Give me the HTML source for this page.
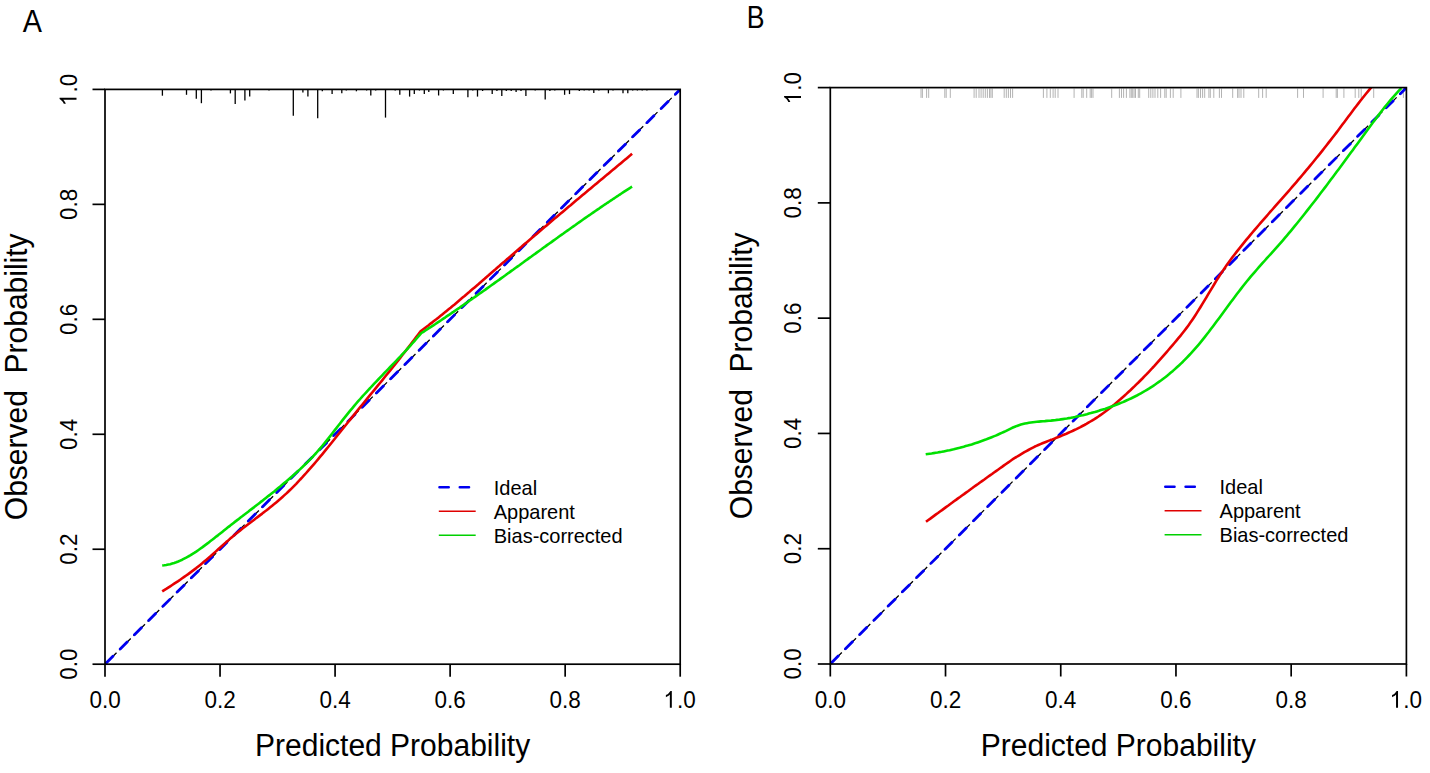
<!DOCTYPE html>
<html><head><meta charset="utf-8"><style>
html,body{margin:0;padding:0;background:#fff;}
body{width:1430px;height:773px;overflow:hidden;}
svg{display:block;}
text{font-family:"Liberation Sans",sans-serif;fill:#000;}
</style></head><body>
<svg width="1430" height="773" viewBox="0 0 1430 773">
<rect width="1430" height="773" fill="#fff"/>
<clipPath id="c105"><rect x="105" y="89.4" width="575.2" height="574.8"/></clipPath>
<line x1="162.4" y1="89.4" x2="162.4" y2="95.7" stroke="#000" stroke-width="1.3"/>
<line x1="186.5" y1="89.4" x2="186.5" y2="94.8" stroke="#000" stroke-width="1.3"/>
<line x1="196.3" y1="89.4" x2="196.3" y2="98.7" stroke="#000" stroke-width="1.3"/>
<line x1="201.4" y1="89.4" x2="201.4" y2="103.2" stroke="#000" stroke-width="1.3"/>
<line x1="211" y1="89.4" x2="211" y2="90.6" stroke="#000" stroke-width="1.3"/>
<line x1="230.4" y1="89.4" x2="230.4" y2="93.4" stroke="#000" stroke-width="1.3"/>
<line x1="235.2" y1="89.4" x2="235.2" y2="103.9" stroke="#000" stroke-width="1.3"/>
<line x1="244.9" y1="89.4" x2="244.9" y2="100.4" stroke="#000" stroke-width="1.3"/>
<line x1="249.7" y1="89.4" x2="249.7" y2="96.6" stroke="#000" stroke-width="1.3"/>
<line x1="269" y1="89.4" x2="269" y2="90.6" stroke="#000" stroke-width="1.3"/>
<line x1="293.3" y1="89.4" x2="293.3" y2="115.8" stroke="#000" stroke-width="1.3"/>
<line x1="302.9" y1="89.4" x2="302.9" y2="92.4" stroke="#000" stroke-width="1.3"/>
<line x1="307.9" y1="89.4" x2="307.9" y2="96.6" stroke="#000" stroke-width="1.3"/>
<line x1="317.7" y1="89.4" x2="317.7" y2="118.3" stroke="#000" stroke-width="1.3"/>
<line x1="322.3" y1="89.4" x2="322.3" y2="91.3" stroke="#000" stroke-width="1.3"/>
<line x1="332.1" y1="89.4" x2="332.1" y2="94.1" stroke="#000" stroke-width="1.3"/>
<line x1="341.8" y1="89.4" x2="341.8" y2="93.3" stroke="#000" stroke-width="1.3"/>
<line x1="346.3" y1="89.4" x2="346.3" y2="90.5" stroke="#000" stroke-width="1.3"/>
<line x1="356.4" y1="89.4" x2="356.4" y2="91.3" stroke="#000" stroke-width="1.3"/>
<line x1="366.6" y1="89.4" x2="366.6" y2="90.5" stroke="#000" stroke-width="1.3"/>
<line x1="370.8" y1="89.4" x2="370.8" y2="95.5" stroke="#000" stroke-width="1.3"/>
<line x1="375.7" y1="89.4" x2="375.7" y2="90.5" stroke="#000" stroke-width="1.3"/>
<line x1="385.5" y1="89.4" x2="385.5" y2="117.6" stroke="#000" stroke-width="1.3"/>
<line x1="395.2" y1="89.4" x2="395.2" y2="90.5" stroke="#000" stroke-width="1.3"/>
<line x1="399.8" y1="89.4" x2="399.8" y2="94.8" stroke="#000" stroke-width="1.3"/>
<line x1="409.6" y1="89.4" x2="409.6" y2="96.6" stroke="#000" stroke-width="1.3"/>
<line x1="414.3" y1="89.4" x2="414.3" y2="94.1" stroke="#000" stroke-width="1.3"/>
<line x1="419.4" y1="89.4" x2="419.4" y2="90.5" stroke="#000" stroke-width="1.3"/>
<line x1="424.3" y1="89.4" x2="424.3" y2="94.1" stroke="#000" stroke-width="1.3"/>
<line x1="428.8" y1="89.4" x2="428.8" y2="92" stroke="#000" stroke-width="1.3"/>
<line x1="438.6" y1="89.4" x2="438.6" y2="95.5" stroke="#000" stroke-width="1.3"/>
<line x1="443.4" y1="89.4" x2="443.4" y2="90.5" stroke="#000" stroke-width="1.3"/>
<line x1="453.3" y1="89.4" x2="453.3" y2="94.1" stroke="#000" stroke-width="1.3"/>
<line x1="467.9" y1="89.4" x2="467.9" y2="97.3" stroke="#000" stroke-width="1.3"/>
<line x1="472.8" y1="89.4" x2="472.8" y2="90.5" stroke="#000" stroke-width="1.3"/>
<line x1="477.5" y1="89.4" x2="477.5" y2="96.6" stroke="#000" stroke-width="1.3"/>
<line x1="482.6" y1="89.4" x2="482.6" y2="91" stroke="#000" stroke-width="1.3"/>
<line x1="492.2" y1="89.4" x2="492.2" y2="94.1" stroke="#000" stroke-width="1.3"/>
<line x1="496.9" y1="89.4" x2="496.9" y2="91" stroke="#000" stroke-width="1.3"/>
<line x1="501.8" y1="89.4" x2="501.8" y2="95.9" stroke="#000" stroke-width="1.3"/>
<line x1="506.3" y1="89.4" x2="506.3" y2="91" stroke="#000" stroke-width="1.3"/>
<line x1="511.2" y1="89.4" x2="511.2" y2="91" stroke="#000" stroke-width="1.3"/>
<line x1="516.1" y1="89.4" x2="516.1" y2="92" stroke="#000" stroke-width="1.3"/>
<line x1="521" y1="89.4" x2="521" y2="91" stroke="#000" stroke-width="1.3"/>
<line x1="525.9" y1="89.4" x2="525.9" y2="95.9" stroke="#000" stroke-width="1.3"/>
<line x1="535.2" y1="89.4" x2="535.2" y2="90.5" stroke="#000" stroke-width="1.3"/>
<line x1="545.2" y1="89.4" x2="545.2" y2="99.4" stroke="#000" stroke-width="1.3"/>
<line x1="549.9" y1="89.4" x2="549.9" y2="91" stroke="#000" stroke-width="1.3"/>
<line x1="554.8" y1="89.4" x2="554.8" y2="90.5" stroke="#000" stroke-width="1.3"/>
<line x1="564.6" y1="89.4" x2="564.6" y2="94.8" stroke="#000" stroke-width="1.3"/>
<line x1="569.5" y1="89.4" x2="569.5" y2="94.1" stroke="#000" stroke-width="1.3"/>
<line x1="579.3" y1="89.4" x2="579.3" y2="91" stroke="#000" stroke-width="1.3"/>
<line x1="584.2" y1="89.4" x2="584.2" y2="90.5" stroke="#000" stroke-width="1.3"/>
<line x1="589.1" y1="89.4" x2="589.1" y2="90.5" stroke="#000" stroke-width="1.3"/>
<line x1="593.8" y1="89.4" x2="593.8" y2="93.1" stroke="#000" stroke-width="1.3"/>
<line x1="598.9" y1="89.4" x2="598.9" y2="90.5" stroke="#000" stroke-width="1.3"/>
<line x1="608.4" y1="89.4" x2="608.4" y2="93.3" stroke="#000" stroke-width="1.3"/>
<line x1="613" y1="89.4" x2="613" y2="90.5" stroke="#000" stroke-width="1.3"/>
<line x1="623" y1="89.4" x2="623" y2="93.3" stroke="#000" stroke-width="1.3"/>
<line x1="627.8" y1="89.4" x2="627.8" y2="93.3" stroke="#000" stroke-width="1.3"/>
<line x1="632.7" y1="89.4" x2="632.7" y2="90.5" stroke="#000" stroke-width="1.3"/>
<line x1="637.4" y1="89.4" x2="637.4" y2="90.5" stroke="#000" stroke-width="1.3"/>
<line x1="642.2" y1="89.4" x2="642.2" y2="90.5" stroke="#000" stroke-width="1.3"/>
<line x1="646.9" y1="89.4" x2="646.9" y2="90.5" stroke="#000" stroke-width="1.3"/>
<g clip-path="url(#c105)">
<line x1="105" y1="664.2" x2="680.2" y2="89.4" stroke="#000" stroke-width="1.3" stroke-dasharray="16.3 3.825"/>
<line x1="105" y1="664.2" x2="680.2" y2="89.4" stroke="#0000f0" stroke-width="2.8" stroke-linecap="round" stroke-dasharray="9.8 10.325" stroke-dashoffset="-1.4"/>
<path d="M162.2 591.4L164.2 590.1L166.2 588.9L168.2 587.6L170.2 586.3L172.2 585.0L174.2 583.7L176.2 582.4L178.2 581.1L180.2 579.7L182.2 578.3L184.2 576.9L186.2 575.5L188.2 574.1L190.2 572.6L192.2 571.1L194.2 569.6L196.2 568.1L198.2 566.5L200.2 564.9L202.2 563.3L204.2 561.6L206.2 559.9L208.2 558.2L210.2 556.5L212.2 554.7L214.2 552.9L216.2 551.1L218.2 549.3L220.2 547.5L222.2 545.7L224.2 543.9L226.2 542.1L228.2 540.4L230.2 538.6L232.2 536.9L234.2 535.3L236.2 533.6L238.2 532.0L240.2 530.4L242.2 528.8L244.2 527.3L246.2 525.7L248.2 524.2L250.2 522.7L252.2 521.2L254.2 519.7L256.2 518.1L258.2 516.6L260.2 515.1L262.2 513.6L264.2 512.0L266.2 510.5L268.2 508.9L270.2 507.3L272.2 505.7L274.2 504.1L276.2 502.4L278.2 500.7L280.2 499.0L282.2 497.2L284.2 495.4L286.2 493.6L288.2 491.7L290.2 489.8L292.2 487.8L294.2 485.8L296.2 483.8L298.2 481.7L300.2 479.5L302.2 477.4L304.2 475.2L306.2 473.0L308.2 470.7L310.2 468.4L312.2 466.1L314.2 463.8L316.2 461.5L318.2 459.1L320.2 456.7L322.2 454.3L324.2 451.9L326.2 449.4L328.2 447.0L330.2 444.5L332.2 442.0L334.2 439.5L336.2 437.0L338.2 434.5L340.2 432.0L342.2 429.5L344.2 427.0L346.2 424.5L348.2 422.0L350.2 419.6L352.2 417.1L354.2 414.6L356.2 412.1L358.2 409.6L360.2 407.2L362.2 404.7L364.2 402.3L366.2 399.8L368.2 397.4L370.2 394.9L372.2 392.5L374.2 390.1L376.2 387.6L378.2 385.2L380.2 382.7L382.2 380.3L384.2 377.8L386.2 375.3L388.2 372.9L390.2 370.4L392.2 367.9L394.2 365.4L396.2 362.9L398.2 360.4L400.2 357.9L402.2 355.3L404.2 352.8L406.2 350.2L408.2 347.6L410.2 345.0L412.2 342.4L414.2 339.8L416.2 337.1L418.2 334.5L420.2 331.8L420.6 331.2L422.6 329.7L424.6 328.2L426.6 326.7L428.6 325.2L430.6 323.6L432.6 322.1L434.6 320.5L436.6 319.0L438.6 317.4L440.6 315.8L442.6 314.2L444.6 312.6L446.6 310.9L448.6 309.3L450.6 307.7L452.6 306.0L454.6 304.4L456.6 302.7L458.6 301.0L460.6 299.3L462.6 297.6L464.6 296.0L466.6 294.3L468.6 292.6L470.6 290.8L472.6 289.1L474.6 287.4L476.6 285.7L478.6 284.0L480.6 282.2L482.6 280.5L484.6 278.8L486.6 277.0L488.6 275.3L490.6 273.5L492.6 271.8L494.6 270.1L496.6 268.3L498.6 266.6L500.6 264.8L502.6 263.1L504.6 261.4L506.6 259.6L508.6 257.9L510.6 256.2L512.6 254.4L514.6 252.7L516.6 251.0L518.6 249.3L520.6 247.6L522.6 245.8L524.6 244.1L526.6 242.4L528.6 240.7L530.6 239.0L532.6 237.3L534.6 235.6L536.6 233.9L538.6 232.2L540.6 230.5L542.6 228.8L544.6 227.1L546.6 225.4L548.6 223.7L550.6 222.0L552.6 220.3L554.6 218.6L556.6 216.9L558.6 215.2L560.6 213.6L562.6 211.9L564.6 210.2L566.6 208.5L568.6 206.8L570.6 205.2L572.6 203.5L574.6 201.8L576.6 200.1L578.6 198.4L580.6 196.8L582.6 195.1L584.6 193.4L586.6 191.8L588.6 190.1L590.6 188.4L592.6 186.7L594.6 185.1L596.6 183.4L598.6 181.7L600.6 180.1L602.6 178.4L604.6 176.7L606.6 175.1L608.6 173.4L610.6 171.7L612.6 170.1L614.6 168.4L616.6 166.7L618.6 165.1L620.6 163.4L622.6 161.7L624.6 160.1L626.6 158.4L628.6 156.7L630.6 155.1L632.1 153.8" fill="none" stroke="#e60000" stroke-width="2.6" stroke-linejoin="round"/>
<path d="M162.2 565.5L164.2 565.3L166.2 565.0L168.2 564.6L170.2 564.2L172.2 563.6L174.2 563.0L176.2 562.3L178.2 561.5L180.2 560.6L182.2 559.7L184.2 558.7L186.2 557.7L188.2 556.5L190.2 555.4L192.2 554.1L194.2 552.9L196.2 551.6L198.2 550.2L200.2 548.8L202.2 547.4L204.2 545.9L206.2 544.4L208.2 542.9L210.2 541.3L212.2 539.8L214.2 538.2L216.2 536.6L218.2 535.1L220.2 533.5L222.2 531.9L224.2 530.3L226.2 528.7L228.2 527.1L230.2 525.6L232.2 524.0L234.2 522.4L236.2 520.9L238.2 519.4L240.2 517.8L242.2 516.3L244.2 514.7L246.2 513.2L248.2 511.7L250.2 510.1L252.2 508.6L254.2 507.1L256.2 505.5L258.2 504.0L260.2 502.4L262.2 500.9L264.2 499.3L266.2 497.7L268.2 496.1L270.2 494.6L272.2 493.0L274.2 491.4L276.2 489.7L278.2 488.1L280.2 486.5L282.2 484.8L284.2 483.1L286.2 481.4L288.2 479.7L290.2 478.0L292.2 476.3L294.2 474.5L296.2 472.7L298.2 470.9L300.2 469.1L302.2 467.2L304.2 465.3L306.2 463.4L308.2 461.4L310.2 459.4L312.2 457.3L314.2 455.1L316.2 453.0L318.2 450.7L320.2 448.4L322.2 446.0L324.2 443.6L326.2 441.1L328.2 438.6L330.2 436.1L332.2 433.5L334.2 430.9L336.2 428.4L338.2 425.8L340.2 423.2L342.2 420.6L344.2 418.1L346.2 415.6L348.2 413.1L350.2 410.7L352.2 408.3L354.2 405.9L356.2 403.5L358.2 401.2L360.2 399.0L362.2 396.7L364.2 394.5L366.2 392.3L368.2 390.1L370.2 388.0L372.2 385.8L374.2 383.7L376.2 381.6L378.2 379.5L380.2 377.4L382.2 375.3L384.2 373.2L386.2 371.2L388.2 369.1L390.2 367.0L392.2 364.9L394.2 362.9L396.2 360.8L398.2 358.7L400.2 356.6L402.2 354.4L404.2 352.3L406.2 350.1L408.2 348.0L410.2 345.8L412.2 343.5L414.2 341.3L416.2 339.0L418.2 336.7L420.2 334.4L421.4 333.0L423.4 331.8L425.4 330.5L427.4 329.2L429.4 327.9L431.4 326.6L433.4 325.3L435.4 324.0L437.4 322.6L439.4 321.3L441.4 320.0L443.4 318.6L445.4 317.3L447.4 315.9L449.4 314.6L451.4 313.2L453.4 311.9L455.4 310.5L457.4 309.1L459.4 307.8L461.4 306.4L463.4 305.0L465.4 303.6L467.4 302.2L469.4 300.8L471.4 299.4L473.4 298.0L475.4 296.6L477.4 295.2L479.4 293.8L481.4 292.4L483.4 291.0L485.4 289.6L487.4 288.1L489.4 286.7L491.4 285.3L493.4 283.9L495.4 282.4L497.4 281.0L499.4 279.6L501.4 278.1L503.4 276.7L505.4 275.3L507.4 273.8L509.4 272.4L511.4 270.9L513.4 269.5L515.4 268.0L517.4 266.6L519.4 265.2L521.4 263.7L523.4 262.3L525.4 260.8L527.4 259.4L529.4 257.9L531.4 256.5L533.4 255.0L535.4 253.6L537.4 252.1L539.4 250.7L541.4 249.3L543.4 247.8L545.4 246.4L547.4 244.9L549.4 243.5L551.4 242.1L553.4 240.6L555.4 239.2L557.4 237.8L559.4 236.3L561.4 234.9L563.4 233.5L565.4 232.0L567.4 230.6L569.4 229.2L571.4 227.8L573.4 226.4L575.4 225.0L577.4 223.5L579.4 222.1L581.4 220.7L583.4 219.3L585.4 217.9L587.4 216.5L589.4 215.2L591.4 213.8L593.4 212.4L595.4 211.0L597.4 209.6L599.4 208.3L601.4 206.9L603.4 205.5L605.4 204.2L607.4 202.8L609.4 201.5L611.4 200.2L613.4 198.8L615.4 197.5L617.4 196.2L619.4 194.8L621.4 193.5L623.4 192.2L625.4 190.9L627.4 189.6L629.4 188.3L631.4 187.0L632.1 186.6" fill="none" stroke="#00e000" stroke-width="2.6" stroke-linejoin="round"/>
</g>
<rect x="105" y="89.4" width="575.2" height="574.8" fill="none" stroke="#000" stroke-width="1.7"/>
<line x1="105" y1="664.2" x2="105" y2="676.7" stroke="#000" stroke-width="1.7"/>
<line x1="92.5" y1="664.2" x2="105" y2="664.2" stroke="#000" stroke-width="1.7"/>
<text transform="translate(105 707.8) scale(1 1.05)" font-size="22.5" text-anchor="middle">0.0</text>
<text transform="translate(76.5 664.2) rotate(-90) scale(1 1.05)" font-size="22.5" text-anchor="middle">0.0</text>
<line x1="220.04" y1="664.2" x2="220.04" y2="676.7" stroke="#000" stroke-width="1.7"/>
<line x1="92.5" y1="549.24" x2="105" y2="549.24" stroke="#000" stroke-width="1.7"/>
<text transform="translate(220.04 707.8) scale(1 1.05)" font-size="22.5" text-anchor="middle">0.2</text>
<text transform="translate(76.5 549.24) rotate(-90) scale(1 1.05)" font-size="22.5" text-anchor="middle">0.2</text>
<line x1="335.08" y1="664.2" x2="335.08" y2="676.7" stroke="#000" stroke-width="1.7"/>
<line x1="92.5" y1="434.28" x2="105" y2="434.28" stroke="#000" stroke-width="1.7"/>
<text transform="translate(335.08 707.8) scale(1 1.05)" font-size="22.5" text-anchor="middle">0.4</text>
<text transform="translate(76.5 434.28) rotate(-90) scale(1 1.05)" font-size="22.5" text-anchor="middle">0.4</text>
<line x1="450.12" y1="664.2" x2="450.12" y2="676.7" stroke="#000" stroke-width="1.7"/>
<line x1="92.5" y1="319.32" x2="105" y2="319.32" stroke="#000" stroke-width="1.7"/>
<text transform="translate(450.12 707.8) scale(1 1.05)" font-size="22.5" text-anchor="middle">0.6</text>
<text transform="translate(76.5 319.32) rotate(-90) scale(1 1.05)" font-size="22.5" text-anchor="middle">0.6</text>
<line x1="565.16" y1="664.2" x2="565.16" y2="676.7" stroke="#000" stroke-width="1.7"/>
<line x1="92.5" y1="204.36" x2="105" y2="204.36" stroke="#000" stroke-width="1.7"/>
<text transform="translate(565.16 707.8) scale(1 1.05)" font-size="22.5" text-anchor="middle">0.8</text>
<text transform="translate(76.5 204.36) rotate(-90) scale(1 1.05)" font-size="22.5" text-anchor="middle">0.8</text>
<line x1="680.2" y1="664.2" x2="680.2" y2="676.7" stroke="#000" stroke-width="1.7"/>
<line x1="92.5" y1="89.4" x2="105" y2="89.4" stroke="#000" stroke-width="1.7"/>
<g transform="translate(680.2 707.8) scale(1 1.05)"><path d="M-8.38 0.00 L-10.36 0.00 L-10.36 -12.60 L-11.05 -11.97 L-12.04 -11.32 L-13.14 -10.71 L-14.32 -10.16 L-14.32 -12.08 L-12.59 -12.96 L-11.27 -14.06 L-10.40 -15.17 L-9.67 -16.11 L-8.38 -16.11Z" fill="#000"/><text x="-3.13" y="0" font-size="22.5">.0</text></g>
<g transform="translate(76.5 89.4) rotate(-90) scale(1 1.05)"><path d="M-8.38 0.00 L-10.36 0.00 L-10.36 -12.60 L-11.05 -11.97 L-12.04 -11.32 L-13.14 -10.71 L-14.32 -10.16 L-14.32 -12.08 L-12.59 -12.96 L-11.27 -14.06 L-10.40 -15.17 L-9.67 -16.11 L-8.38 -16.11Z" fill="#000"/><text x="-3.13" y="0" font-size="22.5">.0</text></g>
<text transform="translate(392.6 756) scale(1 1.02)" font-size="30" text-anchor="middle">Predicted Probability</text>
<text transform="translate(26.8 376.8) rotate(-90) scale(1 1.02)" font-size="30" text-anchor="middle" xml:space="preserve">Observed  Probability</text>
<line x1="438.2" y1="487.2" x2="472.2" y2="487.2" stroke="#0000f0" stroke-width="2.6" stroke-linecap="round" stroke-dasharray="9.2 11.1" stroke-dashoffset="-1.3"/>
<line x1="438.8" y1="511.2" x2="475.7" y2="511.2" stroke="#e00000" stroke-width="1.5"/>
<line x1="438.8" y1="535.2" x2="475.7" y2="535.2" stroke="#00d000" stroke-width="1.5"/>
<text transform="translate(493.75 494.5) scale(1 1.02)" font-size="20">Ideal</text>
<text transform="translate(493.75 518.5) scale(1 1.02)" font-size="20">Apparent</text>
<text transform="translate(493.75 542.5) scale(1 1.02)" font-size="20">Bias-corrected</text>
<text transform="translate(22.8 31.8) scale(0.96 1.06)" font-size="30">A</text>
<clipPath id="c830"><rect x="830.3" y="87.6" width="576.1" height="576.4"/></clipPath>
<line x1="921" y1="88.6" x2="921" y2="97.9" stroke="#aaa" stroke-width="0.9"/>
<line x1="922.4" y1="88.6" x2="922.4" y2="97.9" stroke="#aaa" stroke-width="0.9"/>
<line x1="926.6" y1="88.6" x2="926.6" y2="97.9" stroke="#aaa" stroke-width="0.9"/>
<line x1="928.7" y1="88.6" x2="928.7" y2="97.9" stroke="#aaa" stroke-width="0.9"/>
<line x1="944.8" y1="88.6" x2="944.8" y2="97.9" stroke="#aaa" stroke-width="0.9"/>
<line x1="946.2" y1="88.6" x2="946.2" y2="97.9" stroke="#aaa" stroke-width="0.9"/>
<line x1="950.3" y1="88.6" x2="950.3" y2="97.9" stroke="#aaa" stroke-width="0.9"/>
<line x1="974.1" y1="88.6" x2="974.1" y2="97.9" stroke="#aaa" stroke-width="0.9"/>
<line x1="976.2" y1="88.6" x2="976.2" y2="97.9" stroke="#aaa" stroke-width="0.9"/>
<line x1="979" y1="88.6" x2="979" y2="97.9" stroke="#aaa" stroke-width="0.9"/>
<line x1="981.1" y1="88.6" x2="981.1" y2="97.9" stroke="#aaa" stroke-width="0.9"/>
<line x1="983.2" y1="88.6" x2="983.2" y2="97.9" stroke="#aaa" stroke-width="0.9"/>
<line x1="985.3" y1="88.6" x2="985.3" y2="97.9" stroke="#aaa" stroke-width="0.9"/>
<line x1="987.4" y1="88.6" x2="987.4" y2="97.9" stroke="#aaa" stroke-width="0.9"/>
<line x1="989.5" y1="88.6" x2="989.5" y2="97.9" stroke="#aaa" stroke-width="0.9"/>
<line x1="990.9" y1="88.6" x2="990.9" y2="97.9" stroke="#aaa" stroke-width="0.9"/>
<line x1="992.3" y1="88.6" x2="992.3" y2="97.9" stroke="#aaa" stroke-width="0.9"/>
<line x1="1004.2" y1="88.6" x2="1004.2" y2="97.9" stroke="#aaa" stroke-width="0.9"/>
<line x1="1006.3" y1="88.6" x2="1006.3" y2="97.9" stroke="#aaa" stroke-width="0.9"/>
<line x1="1008.4" y1="88.6" x2="1008.4" y2="97.9" stroke="#aaa" stroke-width="0.9"/>
<line x1="1010.5" y1="88.6" x2="1010.5" y2="97.9" stroke="#aaa" stroke-width="0.9"/>
<line x1="1012.6" y1="88.6" x2="1012.6" y2="97.9" stroke="#aaa" stroke-width="0.9"/>
<line x1="1043.4" y1="88.6" x2="1043.4" y2="97.9" stroke="#aaa" stroke-width="0.9"/>
<line x1="1046.9" y1="88.6" x2="1046.9" y2="97.9" stroke="#aaa" stroke-width="0.9"/>
<line x1="1050.3" y1="88.6" x2="1050.3" y2="97.9" stroke="#aaa" stroke-width="0.9"/>
<line x1="1053.1" y1="88.6" x2="1053.1" y2="97.9" stroke="#aaa" stroke-width="0.9"/>
<line x1="1055.2" y1="88.6" x2="1055.2" y2="97.9" stroke="#aaa" stroke-width="0.9"/>
<line x1="1058" y1="88.6" x2="1058" y2="97.9" stroke="#aaa" stroke-width="0.9"/>
<line x1="1074.1" y1="88.6" x2="1074.1" y2="97.9" stroke="#aaa" stroke-width="0.9"/>
<line x1="1081.8" y1="88.6" x2="1081.8" y2="97.9" stroke="#aaa" stroke-width="0.9"/>
<line x1="1083.2" y1="88.6" x2="1083.2" y2="97.9" stroke="#aaa" stroke-width="0.9"/>
<line x1="1086.7" y1="88.6" x2="1086.7" y2="97.9" stroke="#aaa" stroke-width="0.9"/>
<line x1="1090.2" y1="88.6" x2="1090.2" y2="97.9" stroke="#aaa" stroke-width="0.9"/>
<line x1="1091.6" y1="88.6" x2="1091.6" y2="97.9" stroke="#aaa" stroke-width="0.9"/>
<line x1="1093" y1="88.6" x2="1093" y2="97.9" stroke="#aaa" stroke-width="0.9"/>
<line x1="1111.7" y1="88.6" x2="1111.7" y2="97.9" stroke="#aaa" stroke-width="0.9"/>
<line x1="1119.4" y1="88.6" x2="1119.4" y2="97.9" stroke="#aaa" stroke-width="0.9"/>
<line x1="1121.5" y1="88.6" x2="1121.5" y2="97.9" stroke="#aaa" stroke-width="0.9"/>
<line x1="1123.6" y1="88.6" x2="1123.6" y2="97.9" stroke="#aaa" stroke-width="0.9"/>
<line x1="1126.4" y1="88.6" x2="1126.4" y2="97.9" stroke="#aaa" stroke-width="0.9"/>
<line x1="1129.9" y1="88.6" x2="1129.9" y2="97.9" stroke="#aaa" stroke-width="0.9"/>
<line x1="1131.3" y1="88.6" x2="1131.3" y2="97.9" stroke="#aaa" stroke-width="0.9"/>
<line x1="1132.7" y1="88.6" x2="1132.7" y2="97.9" stroke="#aaa" stroke-width="0.9"/>
<line x1="1134.1" y1="88.6" x2="1134.1" y2="97.9" stroke="#aaa" stroke-width="0.9"/>
<line x1="1135.5" y1="88.6" x2="1135.5" y2="97.9" stroke="#aaa" stroke-width="0.9"/>
<line x1="1138.3" y1="88.6" x2="1138.3" y2="97.9" stroke="#aaa" stroke-width="0.9"/>
<line x1="1139.7" y1="88.6" x2="1139.7" y2="97.9" stroke="#aaa" stroke-width="0.9"/>
<line x1="1148.7" y1="88.6" x2="1148.7" y2="97.9" stroke="#aaa" stroke-width="0.9"/>
<line x1="1150.8" y1="88.6" x2="1150.8" y2="97.9" stroke="#aaa" stroke-width="0.9"/>
<line x1="1152.9" y1="88.6" x2="1152.9" y2="97.9" stroke="#aaa" stroke-width="0.9"/>
<line x1="1155" y1="88.6" x2="1155" y2="97.9" stroke="#aaa" stroke-width="0.9"/>
<line x1="1157.8" y1="88.6" x2="1157.8" y2="97.9" stroke="#aaa" stroke-width="0.9"/>
<line x1="1160.6" y1="88.6" x2="1160.6" y2="97.9" stroke="#aaa" stroke-width="0.9"/>
<line x1="1164.8" y1="88.6" x2="1164.8" y2="97.9" stroke="#aaa" stroke-width="0.9"/>
<line x1="1166.2" y1="88.6" x2="1166.2" y2="97.9" stroke="#aaa" stroke-width="0.9"/>
<line x1="1170.4" y1="88.6" x2="1170.4" y2="97.9" stroke="#aaa" stroke-width="0.9"/>
<line x1="1173.2" y1="88.6" x2="1173.2" y2="97.9" stroke="#aaa" stroke-width="0.9"/>
<line x1="1180.9" y1="88.6" x2="1180.9" y2="97.9" stroke="#aaa" stroke-width="0.9"/>
<line x1="1197" y1="88.6" x2="1197" y2="97.9" stroke="#aaa" stroke-width="0.9"/>
<line x1="1198.4" y1="88.6" x2="1198.4" y2="97.9" stroke="#aaa" stroke-width="0.9"/>
<line x1="1200.5" y1="88.6" x2="1200.5" y2="97.9" stroke="#aaa" stroke-width="0.9"/>
<line x1="1202.6" y1="88.6" x2="1202.6" y2="97.9" stroke="#aaa" stroke-width="0.9"/>
<line x1="1204.7" y1="88.6" x2="1204.7" y2="97.9" stroke="#aaa" stroke-width="0.9"/>
<line x1="1208.9" y1="88.6" x2="1208.9" y2="97.9" stroke="#aaa" stroke-width="0.9"/>
<line x1="1210.3" y1="88.6" x2="1210.3" y2="97.9" stroke="#aaa" stroke-width="0.9"/>
<line x1="1213.8" y1="88.6" x2="1213.8" y2="97.9" stroke="#aaa" stroke-width="0.9"/>
<line x1="1219.4" y1="88.6" x2="1219.4" y2="97.9" stroke="#aaa" stroke-width="0.9"/>
<line x1="1221.5" y1="88.6" x2="1221.5" y2="97.9" stroke="#aaa" stroke-width="0.9"/>
<line x1="1232.7" y1="88.6" x2="1232.7" y2="97.9" stroke="#aaa" stroke-width="0.9"/>
<line x1="1237.6" y1="88.6" x2="1237.6" y2="97.9" stroke="#aaa" stroke-width="0.9"/>
<line x1="1239" y1="88.6" x2="1239" y2="97.9" stroke="#aaa" stroke-width="0.9"/>
<line x1="1241" y1="88.6" x2="1241" y2="97.9" stroke="#aaa" stroke-width="0.9"/>
<line x1="1243.8" y1="88.6" x2="1243.8" y2="97.9" stroke="#aaa" stroke-width="0.9"/>
<line x1="1258.7" y1="88.6" x2="1258.7" y2="97.9" stroke="#aaa" stroke-width="0.9"/>
<line x1="1262.6" y1="88.6" x2="1262.6" y2="97.9" stroke="#aaa" stroke-width="0.9"/>
<line x1="1266.2" y1="88.6" x2="1266.2" y2="97.9" stroke="#aaa" stroke-width="0.9"/>
<line x1="1297.6" y1="88.6" x2="1297.6" y2="97.9" stroke="#aaa" stroke-width="0.9"/>
<line x1="1303.5" y1="88.6" x2="1303.5" y2="97.9" stroke="#aaa" stroke-width="0.9"/>
<line x1="1323.1" y1="88.6" x2="1323.1" y2="97.9" stroke="#aaa" stroke-width="0.9"/>
<line x1="1336.2" y1="88.6" x2="1336.2" y2="97.9" stroke="#aaa" stroke-width="0.9"/>
<line x1="1337.4" y1="88.6" x2="1337.4" y2="97.9" stroke="#aaa" stroke-width="0.9"/>
<line x1="1343.9" y1="88.6" x2="1343.9" y2="97.9" stroke="#aaa" stroke-width="0.9"/>
<line x1="1355.2" y1="88.6" x2="1355.2" y2="97.9" stroke="#aaa" stroke-width="0.9"/>
<line x1="1358.8" y1="88.6" x2="1358.8" y2="97.9" stroke="#aaa" stroke-width="0.9"/>
<line x1="1361.2" y1="88.6" x2="1361.2" y2="97.9" stroke="#aaa" stroke-width="0.9"/>
<line x1="1373.7" y1="88.6" x2="1373.7" y2="97.9" stroke="#aaa" stroke-width="0.9"/>
<line x1="1403.4" y1="88.6" x2="1403.4" y2="97.9" stroke="#aaa" stroke-width="0.9"/>
<g clip-path="url(#c830)">
<line x1="830.3" y1="664" x2="1406.4" y2="87.6" stroke="#000" stroke-width="1.3" stroke-dasharray="16.3 3.825"/>
<line x1="830.3" y1="664" x2="1406.4" y2="87.6" stroke="#0000f0" stroke-width="2.8" stroke-linecap="round" stroke-dasharray="9.8 10.325" stroke-dashoffset="-1.4"/>
<path d="M926.0 521.8L928.0 520.3L930.0 518.9L932.0 517.4L934.0 515.9L936.0 514.4L938.0 513.0L940.0 511.5L942.0 510.1L944.0 508.6L946.0 507.1L948.0 505.7L950.0 504.2L952.0 502.8L954.0 501.3L956.0 499.9L958.0 498.4L960.0 497.0L962.0 495.5L964.0 494.1L966.0 492.6L968.0 491.2L970.0 489.7L972.0 488.3L974.0 486.8L976.0 485.4L978.0 484.0L980.0 482.5L982.0 481.1L984.0 479.7L986.0 478.2L988.0 476.8L990.0 475.4L992.0 474.0L994.0 472.5L996.0 471.1L998.0 469.7L1000.0 468.3L1002.0 466.9L1004.0 465.4L1006.0 464.0L1008.0 462.6L1010.0 461.2L1012.0 459.8L1014.0 458.4L1014.4 458.1L1016.4 457.0L1018.4 455.8L1020.4 454.6L1022.4 453.4L1024.4 452.2L1026.4 451.1L1028.4 450.0L1030.4 448.9L1032.4 447.8L1034.4 446.8L1036.4 445.9L1038.4 445.0L1040.4 444.1L1042.4 443.3L1044.4 442.5L1046.4 441.7L1048.4 440.9L1050.4 440.1L1052.4 439.4L1054.4 438.6L1056.4 437.8L1058.4 437.0L1060.4 436.2L1062.4 435.4L1064.4 434.5L1066.4 433.7L1068.4 432.8L1070.4 431.9L1072.4 431.0L1074.4 430.0L1076.4 429.1L1078.4 428.1L1080.4 427.1L1082.4 426.0L1084.4 425.0L1086.4 423.9L1088.4 422.7L1090.4 421.5L1092.4 420.3L1094.4 419.1L1096.4 417.8L1098.4 416.5L1100.4 415.1L1102.4 413.7L1104.4 412.3L1106.4 410.8L1108.4 409.2L1110.4 407.7L1112.4 406.0L1114.4 404.4L1116.4 402.7L1118.4 401.0L1120.4 399.3L1122.4 397.5L1124.4 395.7L1126.4 393.9L1128.4 392.0L1130.4 390.2L1132.4 388.3L1134.4 386.4L1136.4 384.4L1138.4 382.5L1140.4 380.5L1142.4 378.5L1144.4 376.4L1146.4 374.4L1148.4 372.3L1150.4 370.2L1152.4 368.0L1154.4 365.9L1156.4 363.7L1158.4 361.4L1160.4 359.2L1162.4 356.9L1164.4 354.6L1166.4 352.3L1168.4 350.0L1170.4 347.7L1172.4 345.4L1174.4 343.0L1176.4 340.6L1178.4 338.2L1180.4 335.8L1182.4 333.3L1184.4 330.7L1186.4 328.1L1188.4 325.4L1190.4 322.6L1192.4 319.7L1194.4 316.7L1196.4 313.6L1198.4 310.4L1200.4 307.2L1202.4 303.9L1204.4 300.6L1206.4 297.3L1208.4 293.9L1210.4 290.6L1212.4 287.3L1214.4 284.0L1216.4 280.7L1218.4 277.5L1220.4 274.4L1222.4 271.4L1224.4 268.4L1226.4 265.6L1228.4 262.7L1230.4 260.0L1232.4 257.3L1234.4 254.7L1236.4 252.1L1238.4 249.6L1240.4 247.1L1242.4 244.6L1244.4 242.1L1246.4 239.7L1248.4 237.3L1250.4 234.9L1252.4 232.5L1254.4 230.1L1256.4 227.8L1258.4 225.5L1260.4 223.2L1262.4 220.9L1264.4 218.6L1266.4 216.3L1268.4 214.0L1270.4 211.7L1272.4 209.5L1274.4 207.2L1276.4 204.9L1278.4 202.7L1280.4 200.4L1282.4 198.1L1284.4 195.9L1286.4 193.6L1288.4 191.3L1290.4 189.0L1292.4 186.7L1294.4 184.4L1296.4 182.1L1298.4 179.7L1300.4 177.4L1302.4 175.0L1304.4 172.6L1306.4 170.2L1308.4 167.8L1310.4 165.4L1312.4 163.0L1314.4 160.5L1316.4 158.0L1318.4 155.6L1320.4 153.1L1322.4 150.6L1324.4 148.0L1326.4 145.5L1328.4 142.9L1330.4 140.4L1332.4 137.8L1334.4 135.2L1336.4 132.6L1338.4 130.0L1340.4 127.3L1342.4 124.6L1344.4 122.0L1346.4 119.3L1348.4 116.6L1350.4 113.9L1352.4 111.3L1354.4 108.6L1356.4 106.0L1358.4 103.4L1360.4 100.8L1362.4 98.2L1364.4 95.7L1366.4 93.2L1368.4 90.8L1370.4 88.4L1372.4 86.1L1374.4 83.8L1376.0 82.0" fill="none" stroke="#e60000" stroke-width="2.6" stroke-linejoin="round"/>
<path d="M925.7 454.3L927.7 454.0L929.7 453.7L931.7 453.5L933.7 453.1L935.7 452.8L937.7 452.5L939.7 452.1L941.7 451.8L943.7 451.4L945.7 451.0L947.7 450.6L949.7 450.2L951.7 449.7L953.7 449.3L955.7 448.8L957.7 448.3L959.7 447.8L961.7 447.2L963.7 446.7L965.7 446.1L967.7 445.6L969.7 445.0L971.7 444.4L973.7 443.7L975.7 443.1L977.7 442.4L979.7 441.7L981.7 441.0L983.7 440.3L985.7 439.6L987.7 438.8L989.7 438.0L991.7 437.2L993.7 436.4L995.7 435.6L997.7 434.7L999.7 433.8L1001.7 432.9L1003.7 432.0L1005.7 431.1L1007.7 430.1L1009.7 429.1L1011.7 428.1L1012.9 427.5L1014.9 426.7L1016.9 425.9L1018.9 425.2L1020.9 424.6L1022.9 424.1L1024.9 423.6L1026.9 423.2L1028.9 422.8L1030.9 422.5L1032.9 422.2L1034.9 422.0L1036.9 421.8L1038.9 421.6L1040.9 421.4L1042.9 421.2L1044.9 421.1L1046.9 420.9L1048.9 420.7L1050.9 420.6L1052.9 420.4L1054.9 420.2L1056.9 419.9L1058.9 419.7L1060.9 419.4L1062.9 419.1L1064.9 418.8L1066.9 418.5L1068.9 418.1L1070.9 417.8L1072.9 417.4L1074.9 417.0L1076.9 416.5L1078.9 416.1L1080.9 415.6L1082.9 415.2L1084.9 414.7L1086.9 414.2L1088.9 413.6L1090.9 413.1L1092.9 412.5L1094.9 412.0L1096.9 411.4L1098.9 410.8L1100.9 410.1L1102.9 409.5L1104.9 408.9L1106.9 408.2L1108.9 407.5L1110.9 406.8L1112.9 406.1L1114.9 405.3L1116.9 404.5L1118.9 403.7L1120.9 402.9L1122.9 402.1L1124.9 401.2L1126.9 400.3L1128.9 399.4L1130.9 398.5L1132.9 397.5L1134.9 396.5L1136.9 395.5L1138.9 394.4L1140.9 393.3L1142.9 392.2L1144.9 391.0L1146.9 389.8L1148.9 388.6L1150.9 387.3L1152.9 386.1L1154.9 384.7L1156.9 383.3L1158.9 381.9L1160.9 380.5L1162.9 379.0L1164.9 377.5L1166.9 375.9L1168.9 374.3L1170.9 372.6L1172.9 370.9L1174.9 369.1L1176.9 367.3L1178.9 365.5L1180.9 363.6L1182.9 361.7L1184.9 359.7L1186.9 357.6L1188.9 355.5L1190.9 353.4L1192.9 351.2L1194.9 348.9L1196.9 346.6L1198.9 344.3L1200.9 341.9L1202.9 339.4L1204.9 336.9L1206.9 334.3L1208.9 331.8L1210.9 329.1L1212.9 326.5L1214.9 323.8L1216.9 321.1L1218.9 318.4L1220.9 315.7L1222.9 313.0L1224.9 310.3L1226.9 307.6L1228.9 304.8L1230.9 302.1L1232.9 299.4L1234.9 296.8L1236.9 294.1L1238.9 291.5L1240.9 288.9L1242.9 286.3L1244.9 283.8L1246.9 281.3L1248.9 278.9L1250.9 276.4L1252.9 274.1L1254.9 271.8L1256.9 269.5L1258.9 267.2L1260.9 264.9L1262.9 262.7L1264.9 260.5L1266.9 258.2L1268.9 256.0L1270.9 253.8L1272.9 251.6L1274.9 249.4L1276.9 247.1L1278.9 244.9L1280.9 242.6L1282.9 240.3L1284.9 237.9L1286.9 235.6L1288.9 233.2L1290.9 230.8L1292.9 228.4L1294.9 225.9L1296.9 223.5L1298.9 221.0L1300.9 218.5L1302.9 216.0L1304.9 213.5L1306.9 210.9L1308.9 208.4L1310.9 205.8L1312.9 203.2L1314.9 200.7L1316.9 198.1L1318.9 195.4L1320.9 192.8L1322.9 190.2L1324.9 187.6L1326.9 184.9L1328.9 182.3L1330.9 179.6L1332.9 176.9L1334.9 174.3L1336.9 171.6L1338.9 168.9L1340.9 166.2L1342.9 163.5L1344.9 160.8L1346.9 158.0L1348.9 155.3L1350.9 152.6L1352.9 149.9L1354.9 147.1L1356.9 144.4L1358.9 141.7L1360.9 138.9L1362.9 136.2L1364.9 133.4L1366.9 130.7L1368.9 128.0L1370.9 125.3L1372.9 122.6L1374.9 119.9L1376.9 117.2L1378.9 114.6L1380.9 112.0L1382.9 109.5L1384.9 106.9L1386.9 104.5L1388.9 102.0L1390.9 99.7L1392.9 97.3L1394.9 95.1L1396.9 92.8L1398.9 90.7L1400.9 88.6L1401.4 88.1" fill="none" stroke="#00e000" stroke-width="2.6" stroke-linejoin="round"/>
</g>
<rect x="830.3" y="87.6" width="576.1" height="576.4" fill="none" stroke="#000" stroke-width="1.7"/>
<line x1="830.3" y1="664" x2="830.3" y2="676.5" stroke="#000" stroke-width="1.7"/>
<line x1="817.8" y1="664" x2="830.3" y2="664" stroke="#000" stroke-width="1.7"/>
<text transform="translate(830.3 707.8) scale(1 1.05)" font-size="22.5" text-anchor="middle">0.0</text>
<text transform="translate(801 664) rotate(-90) scale(1 1.05)" font-size="22.5" text-anchor="middle">0.0</text>
<line x1="945.52" y1="664" x2="945.52" y2="676.5" stroke="#000" stroke-width="1.7"/>
<line x1="817.8" y1="548.72" x2="830.3" y2="548.72" stroke="#000" stroke-width="1.7"/>
<text transform="translate(945.52 707.8) scale(1 1.05)" font-size="22.5" text-anchor="middle">0.2</text>
<text transform="translate(801 548.72) rotate(-90) scale(1 1.05)" font-size="22.5" text-anchor="middle">0.2</text>
<line x1="1060.74" y1="664" x2="1060.74" y2="676.5" stroke="#000" stroke-width="1.7"/>
<line x1="817.8" y1="433.44" x2="830.3" y2="433.44" stroke="#000" stroke-width="1.7"/>
<text transform="translate(1060.74 707.8) scale(1 1.05)" font-size="22.5" text-anchor="middle">0.4</text>
<text transform="translate(801 433.44) rotate(-90) scale(1 1.05)" font-size="22.5" text-anchor="middle">0.4</text>
<line x1="1175.96" y1="664" x2="1175.96" y2="676.5" stroke="#000" stroke-width="1.7"/>
<line x1="817.8" y1="318.16" x2="830.3" y2="318.16" stroke="#000" stroke-width="1.7"/>
<text transform="translate(1175.96 707.8) scale(1 1.05)" font-size="22.5" text-anchor="middle">0.6</text>
<text transform="translate(801 318.16) rotate(-90) scale(1 1.05)" font-size="22.5" text-anchor="middle">0.6</text>
<line x1="1291.18" y1="664" x2="1291.18" y2="676.5" stroke="#000" stroke-width="1.7"/>
<line x1="817.8" y1="202.88" x2="830.3" y2="202.88" stroke="#000" stroke-width="1.7"/>
<text transform="translate(1291.18 707.8) scale(1 1.05)" font-size="22.5" text-anchor="middle">0.8</text>
<text transform="translate(801 202.88) rotate(-90) scale(1 1.05)" font-size="22.5" text-anchor="middle">0.8</text>
<line x1="1406.4" y1="664" x2="1406.4" y2="676.5" stroke="#000" stroke-width="1.7"/>
<line x1="817.8" y1="87.6" x2="830.3" y2="87.6" stroke="#000" stroke-width="1.7"/>
<g transform="translate(1406.4 707.8) scale(1 1.05)"><path d="M-8.38 0.00 L-10.36 0.00 L-10.36 -12.60 L-11.05 -11.97 L-12.04 -11.32 L-13.14 -10.71 L-14.32 -10.16 L-14.32 -12.08 L-12.59 -12.96 L-11.27 -14.06 L-10.40 -15.17 L-9.67 -16.11 L-8.38 -16.11Z" fill="#000"/><text x="-3.13" y="0" font-size="22.5">.0</text></g>
<g transform="translate(801 87.6) rotate(-90) scale(1 1.05)"><path d="M-8.38 0.00 L-10.36 0.00 L-10.36 -12.60 L-11.05 -11.97 L-12.04 -11.32 L-13.14 -10.71 L-14.32 -10.16 L-14.32 -12.08 L-12.59 -12.96 L-11.27 -14.06 L-10.40 -15.17 L-9.67 -16.11 L-8.38 -16.11Z" fill="#000"/><text x="-3.13" y="0" font-size="22.5">.0</text></g>
<text transform="translate(1118.35 756) scale(1 1.02)" font-size="30" text-anchor="middle">Predicted Probability</text>
<text transform="translate(751.8 375.8) rotate(-90) scale(1 1.02)" font-size="30" text-anchor="middle" xml:space="preserve">Observed  Probability</text>
<line x1="1164" y1="486.7" x2="1198" y2="486.7" stroke="#0000f0" stroke-width="2.6" stroke-linecap="round" stroke-dasharray="9.2 11.1" stroke-dashoffset="-1.3"/>
<line x1="1164.6" y1="510.7" x2="1201.5" y2="510.7" stroke="#e00000" stroke-width="1.5"/>
<line x1="1164.6" y1="534.7" x2="1201.5" y2="534.7" stroke="#00d000" stroke-width="1.5"/>
<text transform="translate(1219.55 494) scale(1 1.02)" font-size="20">Ideal</text>
<text transform="translate(1219.55 518) scale(1 1.02)" font-size="20">Apparent</text>
<text transform="translate(1219.55 542) scale(1 1.02)" font-size="20">Bias-corrected</text>
<text transform="translate(746.8 28.3) scale(0.89 1.05)" font-size="30">B</text>
</svg>
</body></html>
